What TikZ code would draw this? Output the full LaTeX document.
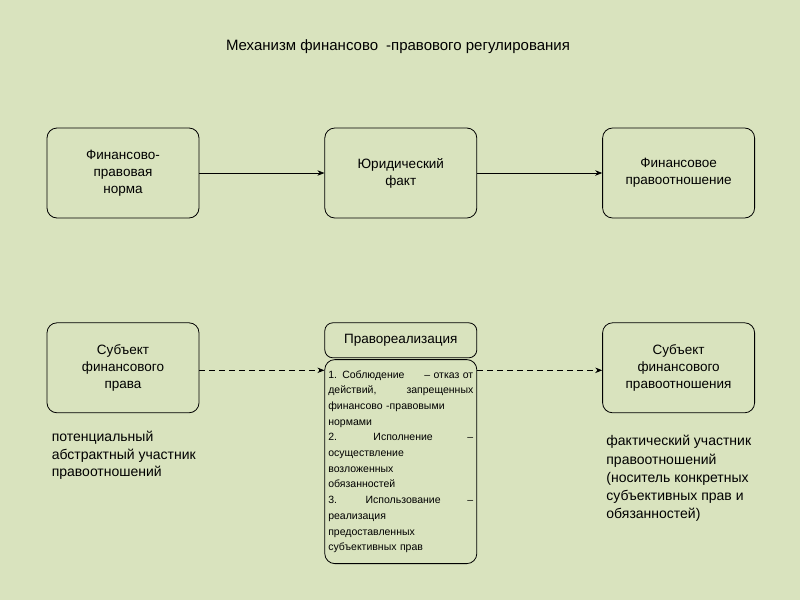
\documentclass[tikz,border=0pt]{standalone}
\usepackage{fontspec}
\setmainfont{Liberation Sans}
\usetikzlibrary{positioning, arrows.meta}
\definecolor{bgcol}{RGB}{217,227,190}
\tikzstyle{block} = [rectangle, rounded corners=10pt, minimum width=152pt, minimum height=90pt,
text centered, text width=140pt, draw=black, line width=0.8pt, font=\fontsize{13.5}{17}\selectfont]
\tikzstyle{head} = [rectangle, rounded corners=8pt, minimum width=152pt, minimum height=35pt,
text centered, draw=black, line width=0.8pt, font=\fontsize{13.5}{17}\selectfont]
\tikzstyle{listbox} = [rectangle, rounded corners=10pt, minimum width=152pt, minimum height=204pt,
text width=145pt, align=left, inner sep=3pt, draw=black, line width=0.8pt, font=\fontsize{10.5}{15.7}\selectfont]
\tikzstyle{note} = [align=left, inner sep=4pt]
\tikzstyle{arrow} = [line width=0.8pt,-{Stealth[length=7pt,width=5.5pt]}]
\tikzstyle{dasharrow} = [line width=0.8pt,-{Stealth[length=7pt,width=5.5pt]},dash pattern=on 6pt off 4pt]

\begin{document}
\begin{tikzpicture}[x=1pt, y=-1pt, node distance=125pt]

\fill[bgcol] (0,0) rectangle (800,600);

\node (title) at (398,47) {\fontsize{15}{18}\selectfont Механизм финансово\hspace{8pt}-правового регулирования};

\node (norm) [block] at (123,173) {Финансово-\\правовая\\норма};
\node (fact) [block, right=of norm] {Юридический\\факт};
\node (rel) [block, right=of fact] {Финансовое\\правоотношение};

\node (subj) [block, below=104pt of norm] {Субъект\\финансового\\права};
\node (real) [head, below=104pt of fact] {Правореализация};
\node (forms) [listbox, below=1pt of real] {1. Соблюдение \hfill – отказ от\\
действий, \hfill запрещенных\\
финансово -правовыми\\
нормами\\
2. \hfill Исполнение \hfill –\\
осуществление\\
возложенных\\
обязанностей\\
3. \hfill Использование \hfill –\\
реализация\\
предоставленных\\
субъективных прав};
\node (subjrel) [block, below=104pt of rel] {Субъект\\финансового\\правоотношения};

\node (note1) [note, below right=14pt and 1pt of subj.south west, font=\fontsize{14}{17.5}\selectfont]
{потенциальный\\абстрактный участник\\правоотношений};
\node (note2) [note, below right=18pt and 0pt of subjrel.south west, font=\fontsize{14}{18.3}\selectfont]
{фактический участник\\правоотношений\\(носитель конкретных\\субъективных прав и\\обязанностей)};

\draw [arrow] (norm) -- (fact);
\draw [arrow] (fact) -- (rel);
\coordinate (c1) at ([yshift=-2.5pt]subj.east);
\coordinate (c2) at ([yshift=-2.5pt]subjrel.west);
\draw [dasharrow] (c1) -- (c1 -| forms.west);
\draw [dasharrow] (c2 -| forms.east) -- (c2);

\end{tikzpicture}
\end{document}
